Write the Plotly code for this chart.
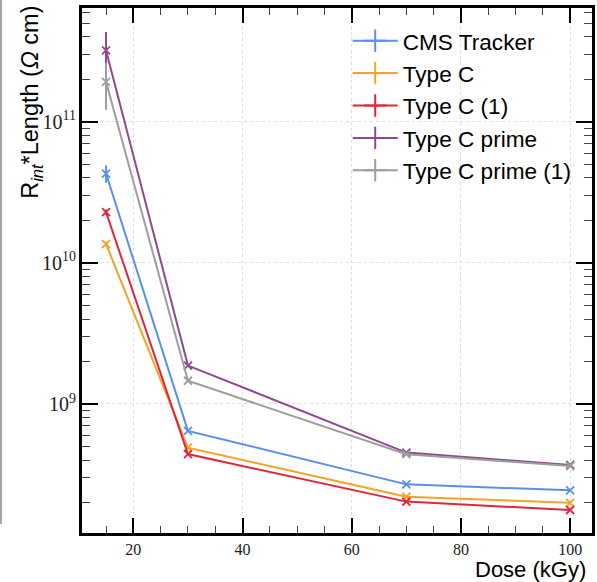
import plotly.graph_objects as go

# Dose points (kGy)
dose = [15, 30, 70, 100]

# Interstrip resistance times strip length (Ohm cm)
cms_tracker = [4.30e10, 6.44e8, 2.69e8, 2.44e8]
type_c = [1.36e10, 4.90e8, 2.20e8, 1.99e8]
type_c_1 = [2.29e10, 4.41e8, 2.03e8, 1.77e8]
type_c_prime = [3.21e11, 1.87e9, 4.52e8, 3.69e8]
type_c_prime_1 = [1.92e11, 1.46e9, 4.40e8, 3.63e8]

# Measurement uncertainties
cms_tracker_err = [0.6e10, 0, 0, 0]
type_c_err = [0.05e10, 0, 0, 0]
type_c_1_err = [0.1e10, 0, 0, 0]
type_c_prime_err = [1.12e11, 0, 0, 0]
type_c_prime_1_err = [0.70e11, 0, 0, 0]

series_names = ["CMS Tracker", "Type C", "Type C (1)", "Type C prime", "Type C prime (1)"]
series_values = [cms_tracker, type_c, type_c_1, type_c_prime, type_c_prime_1]
series_errors = [cms_tracker_err, type_c_err, type_c_1_err, type_c_prime_err, type_c_prime_1_err]
colors = ["#5B8FEE", "#F5A227", "#E1263B", "#8E4A8C", "#9E9E9E"]

x_ticks = [20, 40, 60, 80, 100]

fig = go.Figure()

for name, vals, errs, col in zip(series_names, series_values, series_errors, colors):
    fig.add_trace(go.Scatter(
        x=dose, y=vals, mode="lines+markers", name=name,
        line=dict(color=col, width=2),
        marker=dict(symbol="x-thin", size=8, line=dict(color=col, width=1.8)),
        error_y=dict(type="data", array=errs, visible=True, color=col, thickness=2, width=0),
        showlegend=False,
    ))
    # legend glyph: line with an error-bar style cross
    fig.add_trace(go.Scatter(
        x=[None], y=[None], mode="lines+markers", name=name,
        line=dict(color=col, width=2),
        marker=dict(symbol="cross-thin", size=20, line=dict(color=col, width=2)),
        showlegend=True,
    ))

tick_font = dict(family="Liberation Serif, DejaVu Serif, serif", size=16, color="#222")

fig.update_layout(
    width=597, height=582,
    margin=dict(l=82, r=2, t=8, b=49),
    paper_bgcolor="white", plot_bgcolor="white",
    font=dict(family="Liberation Sans, Arial, sans-serif", size=22, color="black"),
    legend=dict(
        x=0.521, y=0.978, xanchor="left", yanchor="top",
        bgcolor="rgba(0,0,0,0)", borderwidth=0,
        font=dict(family="Liberation Sans, Arial, sans-serif", size=22.6, color="black"),
        itemwidth=45,
    ),
    xaxis=dict(
        range=[10.6, 104.0],
        tickvals=x_ticks, ticktext=[str(v) for v in x_ticks],
        ticks="inside", ticklen=15, tickwidth=1.5, tickcolor="black",
        minor=dict(dtick=5, ticks="inside", ticklen=7, tickwidth=1.2, tickcolor="#444", showgrid=False),
        showline=True, linecolor="black", linewidth=2.5, mirror="ticks",
        showgrid=True, gridcolor="#dddddd", gridwidth=1, griddash="dot",
        tickfont=tick_font, zeroline=False,
    ),
    yaxis=dict(
        type="log", range=[8.085, 11.807],
        dtick=1, exponentformat="power", showexponent="all",
        ticks="inside", ticklen=16, tickwidth=1.5, tickcolor="black",
        minor=dict(dtick="D1", ticks="inside", ticklen=8, tickwidth=1.2, tickcolor="#444", showgrid=False),
        showline=True, linecolor="black", linewidth=2.5, mirror="ticks",
        showgrid=True, gridcolor="#dddddd", gridwidth=1, griddash="dot",
        tickfont=tick_font, zeroline=False,
    ),
    annotations=[
        dict(text="R<sub><i>int</i></sub>*Length (<i>Ω</i> cm)", textangle=-90,
             xref="paper", yref="paper", x=-0.099, y=1.008, xanchor="center", yanchor="top",
             showarrow=False, font=dict(size=23.5)),
        dict(text="Dose (kGy)", xref="paper", yref="paper", x=0.992, y=-0.0686,
             xanchor="right", yanchor="middle", showarrow=False, font=dict(size=22)),
    ],
    shapes=[
        dict(type="line", xref="paper", yref="paper", x0=-0.1589, x1=-0.1589, y0=1.0152, y1=0.0171,
             line=dict(color="#8a8a8a", width=1.5)),
    ],
)

fig.write_html("out.html")
